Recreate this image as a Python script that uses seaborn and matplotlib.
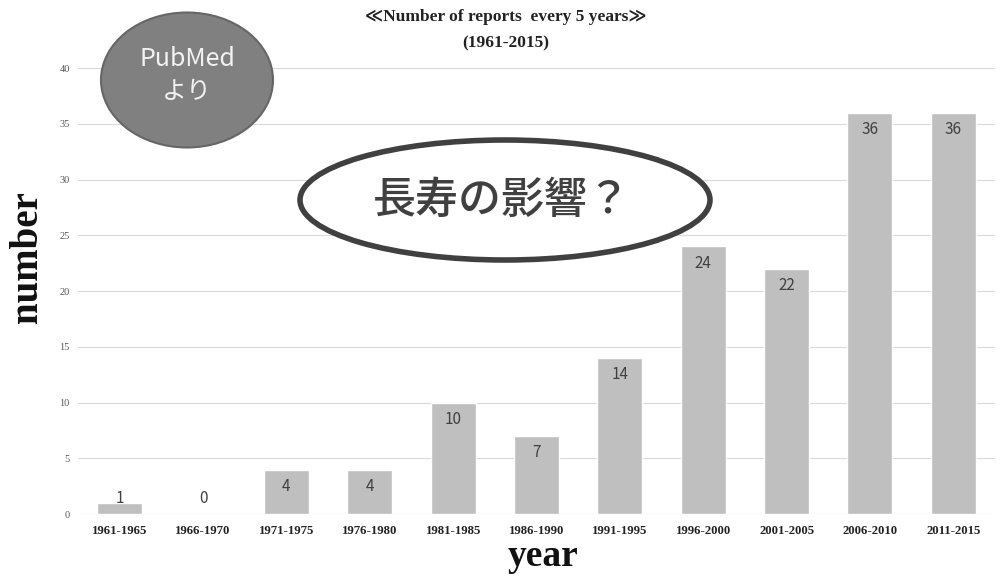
import matplotlib
matplotlib.use("Agg")
import matplotlib.pyplot as plt
from matplotlib.patches import Ellipse
import seaborn as sns
import pandas as pd

periods = ["1961-1965", "1966-1970", "1971-1975", "1976-1980", "1981-1985",
           "1986-1990", "1991-1995", "1996-2000", "2001-2005", "2006-2010", "2011-2015"]
counts = [1, 0, 4, 4, 10, 7, 14, 24, 22, 36, 36]
yticks = [0, 5, 10, 15, 20, 25, 30, 35, 40]

sns.set_theme(style="white")
serif = ["Liberation Serif", "DejaVu Serif", "DejaVu Sans", "Noto Sans CJK JP"]
cjk = ["Noto Sans CJK JP", "DejaVu Sans"]

df = pd.DataFrame({"period": periods, "count": counts})

fig = plt.figure(figsize=(10, 5.77), dpi=100)
ax = fig.add_axes([0.078, 0.109, 0.917, 0.773])
sns.barplot(data=df, x="period", y="count", color="#bfbfbf", saturation=1,
            width=0.54, ax=ax, zorder=3)
ax.set_ylim(0, 40)
ax.set_xlim(-0.5, len(periods) - 0.5)
ax.set_yticks(yticks)
ax.set_yticklabels([str(t) for t in yticks], family=serif, fontsize=7.5, color="#595959")
ax.set_xticks(range(len(periods)))
ax.set_xticklabels(periods, family=serif, fontsize=9.2, fontweight="bold", color="#222222")
ax.tick_params(axis="x", length=0, pad=8)
ax.tick_params(axis="y", length=0, pad=6)
ax.grid(axis="y", color="#d9d9d9", lw=0.8, zorder=0)
for s in ax.spines.values():
    s.set_visible(False)
ax.set_xlabel("")
ax.set_ylabel("")

for i, v in enumerate(counts):
    yy = max(v - 1.5, 1.4)
    ax.text(i, yy, str(v), ha="center", va="center", fontsize=11,
            family=cjk, color="#404040", zorder=4)

fig.text(0.543, 0.035, "year", ha="center", va="center", family=serif,
         fontsize=27, fontweight="bold", color="#111111")
fig.text(0.027, 0.555, "number", ha="center", va="center", rotation=90,
         family=serif, fontsize=28, fontweight="bold", color="#111111")
fig.text(0.506, 0.97, "\u226aNumber of reports  every 5 years\u226b", ha="center",
         va="center", family=serif, fontsize=12.5, fontweight="bold", color="#222222")
fig.text(0.506, 0.925, "(1961-2015)", ha="center", va="center", family=serif,
         fontsize=12.5, fontweight="bold", color="#222222")

# PubMed ellipse
e1 = Ellipse((0.187, 1 - 80 / 577), 0.172, 135 / 577, transform=fig.transFigure,
             facecolor="#808080", edgecolor="#666666", lw=1.5, zorder=5)
fig.patches.append(e1)
fig.text(0.187, 1 - 76 / 577, "PubMed\nより", ha="center", va="center",
         family=cjk, fontsize=18, color="#f2f2f2", linespacing=1.35, zorder=6)

# Big ellipse
e2 = Ellipse((0.505, 1 - 200 / 577), 0.41, 120 / 577, transform=fig.transFigure,
             facecolor="white", edgecolor="#404040", lw=4, zorder=5)
fig.patches.append(e2)
fig.text(0.502, 1 - 200 / 577, "長寿の影響？", ha="center", va="center",
         family=cjk, fontsize=31, fontweight="medium", color="#404040", zorder=6)

fig.savefig("out.png", dpi=100)
